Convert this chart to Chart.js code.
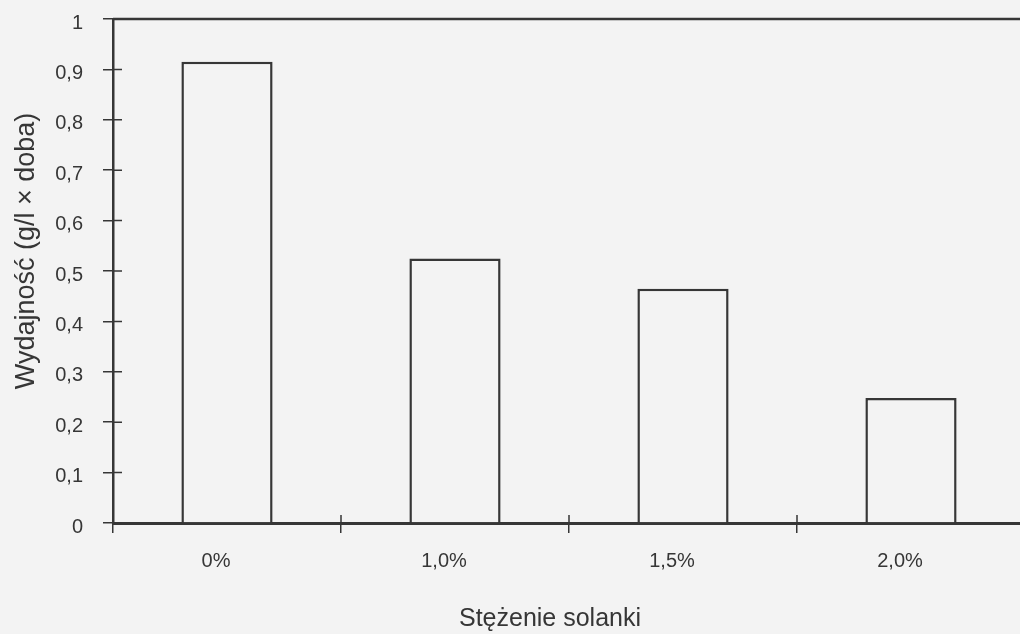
<!DOCTYPE html>
<html>
<head>
<meta charset="utf-8">
<script src="https://cdn.jsdelivr.net/npm/chart.js@4/dist/chart.umd.min.js"></script>
<style>
  html, body { margin: 0; padding: 0; background: #f3f3f3; overflow: hidden; }
  #wrap { width: 1020px; height: 634px; overflow: hidden; }
  #box { width: 1026px; height: 634px; position: relative; }
</style>
</head>
<body>
<div id="wrap"><div id="box"><canvas id="c"></canvas></div></div>
<script>
// Brine concentration categories and measured productivity
const categories = ['0%', '1,0%', '1,5%', '2,0%'];
const productivity = [0.915, 0.525, 0.465, 0.248];
const yTickLabels = ['0', '0,1', '0,2', '0,3', '0,4', '0,5', '0,6', '0,7', '0,8', '0,9', '1'];
const xTitle = 'Stężenie solanki';
const yTitle = 'Wydajność (g/l × doba)';

const INK = '#363636';
const PAPER = '#f3f3f3';
const FONT = '"Liberation Sans", Arial, sans-serif';

// Inner halves of the cross-shaped tick marks, the top frame line and the axis titles
const frameTicks = {
  id: 'frameTicks',
  afterDraw(chart) {
    const { ctx, chartArea: a, scales: { x, y } } = chart;
    ctx.save();
    ctx.strokeStyle = INK;
    ctx.lineWidth = 1.5;
    ctx.beginPath();
    y.ticks.forEach((t, i) => {
      const py = y.getPixelForTick(i);
      ctx.moveTo(a.left, py);
      ctx.lineTo(a.left + 9, py);
    });
    for (let i = 1; i < x.ticks.length; i++) {
      const px = (x.getPixelForTick(i - 1) + x.getPixelForTick(i)) / 2;
      ctx.moveTo(px, a.bottom);
      ctx.lineTo(px, a.bottom - 8);
    }
    ctx.stroke();
    ctx.lineWidth = 2.5;
    ctx.beginPath();
    ctx.moveTo(a.left, a.top);
    ctx.lineTo(a.right + 2, a.top);
    ctx.stroke();

    ctx.fillStyle = INK;
    ctx.textAlign = 'center';
    ctx.textBaseline = 'middle';
    ctx.font = '25px ' + FONT;
    ctx.fillText(xTitle, (a.left + a.right) / 2 - 19, chart.height - 15);
    ctx.translate(27, (a.top + a.bottom) / 2 - 20);
    ctx.rotate(-Math.PI / 2);
    ctx.font = '27px ' + FONT;
    ctx.fillText(yTitle, 0, 0);
    ctx.restore();
  }
};

new Chart(document.getElementById('c'), {
  type: 'bar',
  data: {
    labels: categories,
    datasets: [{
      data: productivity,
      backgroundColor: PAPER,
      borderColor: INK,
      borderWidth: 2.5,
      borderSkipped: 'bottom',
      barPercentage: 0.4,
      categoryPercentage: 1.0
    }]
  },
  options: {
    responsive: true,
    maintainAspectRatio: false,
    animation: false,
    layout: { padding: { top: 19, right: 1, left: 0, bottom: 0 } },
    plugins: { legend: { display: false }, tooltip: { enabled: false } },
    scales: {
      x: {
        offset: true,
        grid: {
          offset: true,
          drawOnChartArea: false,
          drawTicks: true,
          tickLength: 10,
          color: INK,
          lineWidth: 1.5
        },
        border: { display: true, color: INK, width: 3 },
        ticks: {
          color: INK,
          font: { family: FONT, size: 20 },
          padding: 16,
          labelOffset: -11,
          maxRotation: 0
        },
        afterFit(scale) { scale.height = 111; scale.paddingLeft = 0; scale.paddingRight = 0; }
      },
      y: {
        min: 0,
        max: 1,
        ticks: {
          stepSize: 0.1,
          color: INK,
          font: { family: FONT, size: 20 },
          padding: 20,
          labelOffset: 4,
          callback: (v, i) => yTickLabels[i]
        },
        grid: {
          drawOnChartArea: false,
          drawTicks: true,
          tickLength: 10,
          color: INK,
          lineWidth: 1.5
        },
        border: { display: true, color: INK, width: 2.5 },
        afterFit(scale) { scale.width = 113; scale.paddingTop = 0; scale.paddingBottom = 0; }
      }
    }
  },
  plugins: [frameTicks]
});
</script>
</body>
</html>
